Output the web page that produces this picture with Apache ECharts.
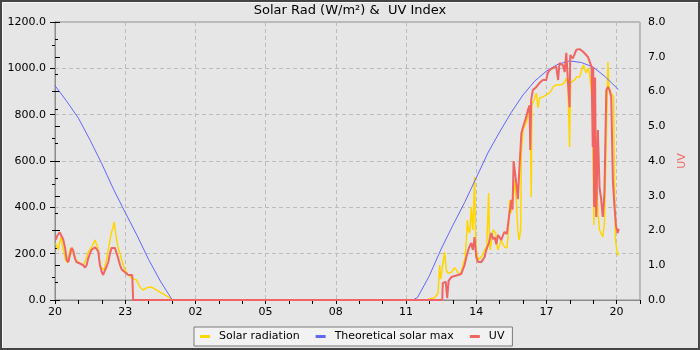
<!DOCTYPE html>
<html>
<head>
<meta charset="utf-8">
<script src="https://cdn.jsdelivr.net/npm/echarts@6/dist/echarts.min.js"></script>
<style>
html, body { margin: 0; padding: 0; background: #e6e6e6; }
#wrap { position: relative; width: 700px; height: 350px; }
#chart { position: absolute; left: 0; top: 0; width: 700px; height: 350px; }
#frame { position: absolute; left: 0; top: 0; width: 700px; height: 350px; box-sizing: border-box;
  border: 2px solid #454545; box-shadow: inset 1px 1px 0 #f7f7f7; pointer-events: none; }
</style>
</head>
<body>
<div id="wrap"><div id="chart"></div><div id="frame"></div></div>
<script>
// x values are hours after 20:00 of the first day
const hourLabels = ['20', '23', '02', '05', '08', '11', '14', '17', '20'];

const solarHours = [
  0.03, 0.07, 0.14, 0.2, 0.26, 0.31, 0.36, 0.45, 0.53, 0.6, 0.66, 0.71, 0.77, 0.83, 0.92, 1.0,
  1.1, 1.21, 1.3, 1.42, 1.5, 1.6, 1.71, 1.76, 1.82, 1.9, 1.95, 2.02, 2.1, 2.2, 2.28, 2.36,
  2.42, 2.47, 2.53, 2.58, 2.63, 2.7, 2.78, 2.85, 2.92, 2.99, 3.06, 3.13, 3.2, 3.27, 3.38, 3.49,
  3.56, 3.63, 3.7, 3.77, 3.84, 3.91, 4.0, 4.13, 4.2, 4.34, 4.45, 4.55, 4.66, 4.77, 4.84, 4.91,
  5.01, 15.9, 15.95, 16.08, 16.22, 16.3, 16.37, 16.44, 16.48, 16.51, 16.58, 16.65, 16.72, 16.8,
  16.87, 16.94, 17.01, 17.08, 17.15, 17.22, 17.29, 17.36, 17.43, 17.53, 17.58, 17.62, 17.67,
  17.72, 17.76, 17.79, 17.83, 17.86, 17.93, 17.97, 18.0, 18.08, 18.15, 18.22, 18.29, 18.36,
  18.45, 18.53, 18.57, 18.6, 18.66, 18.72, 18.78, 18.83, 18.88, 18.93, 19.0, 19.07, 19.14,
  19.21, 19.31, 19.36, 19.43, 19.5, 19.57, 19.64, 19.71, 19.78, 19.83, 19.9, 19.93, 20.0,
  20.07, 20.14, 20.2, 20.25, 20.31, 20.35, 20.38, 20.42, 20.5, 20.57, 20.64, 20.71, 20.78,
  20.85, 20.92, 20.99, 21.07, 21.14, 21.21, 21.28, 21.35, 21.42, 21.49, 21.56, 21.64, 21.71,
  21.78, 21.85, 21.92, 21.99, 22.03, 22.1, 22.2, 22.3, 22.42, 22.5, 22.58, 22.63, 22.7, 22.77,
  22.84, 22.92, 22.96, 22.99, 23.03, 23.06, 23.13, 23.2, 23.27, 23.34, 23.41, 23.48, 23.56,
  23.63, 23.67, 23.74, 23.8, 23.87, 23.91, 23.95, 24.01, 24.05, 24.1
];
const solarValues = [
  245, 237, 216, 250, 272, 240, 216, 175, 160, 195, 225, 229, 205, 190, 170, 164,
  155, 151, 170, 207, 200, 235, 259, 245, 230, 170, 142, 135, 130, 175, 220, 265,
  294, 310, 337, 300, 260, 224, 200, 173, 150, 130, 118, 108, 100, 95, 90, 86,
  70, 56, 48, 43, 48, 52, 55, 56, 50, 43, 36, 30, 24, 17, 12, 9,
  0, 0, 5, 8, 10, 10, 30, 151, 90, 108, 160, 207, 130, 115,
  108, 120, 125, 140, 130, 118, 108, 120, 115, 186, 260, 345, 300,
  289, 350, 401, 330, 302, 531, 300, 216, 173, 180, 186, 200, 216,
  230, 462, 260, 216, 260, 302, 295, 290, 240, 216, 240, 259, 240,
  229, 225, 270, 432, 376, 432, 518, 432, 302, 259, 300, 635, 734,
  750, 764, 790, 820, 830, 445, 840, 850, 870, 894, 829, 872, 874,
  876, 880, 885, 890, 894, 905, 920, 925, 928, 926, 928, 930, 932,
  941, 958, 930, 660, 937, 945, 950, 963, 963, 990, 1014, 1010, 980, 1000,
  980, 906, 833, 660, 324, 833, 548, 376, 302, 294, 272, 332, 690,
  1027, 920, 900, 894, 876, 518, 259, 216, 194, 203
];

const uvHours = [
  0.03, 0.1, 0.2, 0.28, 0.35, 0.43, 0.5, 0.57, 0.64, 0.71, 0.78, 0.85, 0.92, 1.07, 1.21, 1.28,
  1.35, 1.42, 1.5, 1.57, 1.71, 1.78, 1.85, 1.92, 2.0, 2.06, 2.13, 2.2, 2.28, 2.35, 2.42, 2.49,
  2.56, 2.63, 2.7, 2.78, 2.85, 2.92, 2.99, 3.06, 3.13, 3.2, 3.3, 3.34, 16.55, 16.57, 16.7,
  16.74, 16.76, 16.8, 16.82, 16.94, 17.08, 17.22, 17.36, 17.43, 17.5, 17.58, 17.69, 17.79,
  17.86, 17.93, 18.0, 18.08, 18.22, 18.29, 18.36, 18.43, 18.54, 18.64, 18.72, 18.79, 18.86,
  18.93, 19.0, 19.07, 19.14, 19.21, 19.31, 19.4, 19.5, 19.55, 19.6, 19.64, 19.71, 19.78,
  19.85, 19.93, 20.0, 20.14, 20.21, 20.28, 20.31, 20.35, 20.42, 20.57, 20.71, 20.85, 20.99,
  21.06, 21.14, 21.28, 21.42, 21.5, 21.56, 21.71, 21.78, 21.85, 21.92, 21.99, 22.02, 22.13,
  22.28, 22.42, 22.56, 22.7, 22.78, 22.93, 22.98, 23.0, 23.04, 23.08, 23.13, 23.2, 23.27,
  23.34, 23.41, 23.48, 23.56, 23.63, 23.7, 23.77, 23.84, 23.91, 23.98, 24.05, 24.09
];
const uvValues = [
  1.73, 1.85, 1.95, 2.0, 1.75, 1.5, 1.15, 1.09, 1.3, 1.5, 1.42, 1.2, 1.09, 1.05, 1.0, 0.93,
  1.0, 1.2, 1.35, 1.45, 1.52, 1.55, 1.4, 1.0, 0.8, 0.72, 0.85, 0.95, 1.1, 1.35, 1.5, 1.52,
  1.5, 1.35, 1.2, 1.0, 0.88, 0.83, 0.8, 0.78, 0.72, 0.7, 0.72, 0, 0, 0.49, 0.52,
  0.5, 0.05, 0.05, 0.55, 0.66, 0.69, 0.72, 0.75, 0.8, 1.0, 1.24, 1.5, 1.64,
  1.44, 1.81, 1.24, 1.09, 1.09, 1.12, 1.24, 1.44, 1.64, 1.93, 1.75, 1.81, 1.6,
  1.87, 1.8, 1.73, 1.85, 1.96, 1.9, 2.39, 2.88, 2.6, 4.0, 4.03, 3.37, 2.9,
  3.83, 4.8, 4.98, 5.27, 5.47, 5.6, 4.32, 5.76, 6.04, 6.13, 6.25, 6.33, 6.33,
  6.53, 6.62, 6.68, 6.71, 6.33, 6.82, 6.75, 6.56, 7.11, 6.3, 5.55, 7.05, 6.95,
  7.2, 7.22, 7.15, 7.05, 6.99, 6.71, 4.4, 6.7, 2.68, 6.4, 2.39, 4.89, 3.25,
  2.9, 2.39, 3.08, 6.04, 6.13, 6.04, 5.84, 3.45, 2.68, 2.1, 1.93, 2.05
];

const maxHours = [
  0, 0.5, 1.0, 1.5, 2.0, 2.5, 3.0, 3.5, 4.0, 4.5, 5.0, 5.1, 15.3, 15.5, 16.0, 16.5, 17.0,
  17.5, 18.0, 18.5, 19.0, 19.5, 20.0, 20.5, 21.0, 21.5, 22.0, 22.5, 23.0, 23.5, 24.0, 24.08
];
const maxValues = [
  925, 858, 785, 690, 588, 478, 378, 280, 175, 82, 2, 0, 0, 12, 105, 220, 322,
  420, 527, 635, 725, 810, 885, 945, 988, 1018, 1032, 1025, 1005, 965, 916, 908
];

const pairs = (xs, ys) => xs.map((x, i) => [x, ys[i]]);
const font = 'DejaVu Sans';

const chart = echarts.init(document.getElementById('chart'));
const option = {
  backgroundColor: '#e6e6e6',
  animation: false,
  textStyle: { fontFamily: font },
  title: {
    text: 'Solar Rad (W/m²) &  UV Index',
    left: 'center',
    top: 4,
    padding: 0,
    textStyle: { fontFamily: font, fontSize: 13, fontWeight: 'normal', color: '#000' }
  },
  legend: {
    left: 194,
    top: 327,
    padding: [4, 8, 4, 6],
    itemGap: 16,
    itemWidth: 10,
    itemHeight: 3,
    icon: 'rect',
    backgroundColor: '#f2f2f2',
    borderColor: '#7a7a7a',
    borderWidth: 1,
    borderRadius: 0,
    textStyle: { fontFamily: font, fontSize: 11, color: '#000', padding: [0, 0, 0, 4] },
    data: ['Solar radiation', 'Theoretical solar max', 'UV']
  },
  grid: {
    left: 55, right: 60, top: 22, bottom: 50,
    containLabel: false, outerBoundsMode: 'none',
    show: true, borderColor: '#8c8c8c', borderWidth: 1, backgroundColor: 'transparent'
  },
  xAxis: [
    {
      type: 'value', min: 0, max: 25, interval: 3,
      axisLine: { show: true, lineStyle: { color: '#8c8c8c' } },
      axisTick: { show: false },
      axisLabel: {
        color: '#000', fontSize: 11, margin: 7,
        formatter: v => (v % 3 === 0 ? hourLabels[v / 3] : '')
      },
      splitLine: { show: true, lineStyle: { color: '#bcbcbc', type: [4, 3] } }
    },
    {
      type: 'value', min: 0, max: 25, interval: 1, position: 'bottom',
      axisLine: { show: false },
      axisTick: { show: true, length: 4, lineStyle: { color: '#000' } },
      axisLabel: { show: false },
      splitLine: { show: false }
    }
  ],
  yAxis: [
    {
      type: 'value', min: 0, max: 1200, interval: 200, position: 'left',
      name: 'Solar Rad (W/m²)', nameLocation: 'middle', nameRotate: 90, nameGap: 40,
      nameTextStyle: { color: '#2b6ea6', fontSize: 11, fontFamily: font },
      axisLine: { show: true, lineStyle: { color: '#8c8c8c' } },
      axisTick: { show: true, length: 5, lineStyle: { color: '#000' } },
      minorTick: { show: true, splitNumber: 2, length: 3, lineStyle: { color: '#000' } },
      axisLabel: { color: '#000', fontSize: 11, margin: 9, formatter: v => v.toFixed(1) },
      splitLine: { show: true, lineStyle: { color: '#bcbcbc', type: [4, 3] } }
    },
    {
      type: 'value', min: 0, max: 8, interval: 1, position: 'right',
      name: 'UV', nameLocation: 'middle', nameRotate: 90, nameGap: 36,
      nameTextStyle: { color: '#f06464', fontSize: 11, fontFamily: font },
      axisLine: { show: true, lineStyle: { color: '#8c8c8c' } },
      axisTick: { show: true, length: 5, lineStyle: { color: '#000' } },
      minorTick: { show: true, splitNumber: 2, length: 3, lineStyle: { color: '#000' } },
      axisLabel: { color: '#000', fontSize: 11, margin: 8, formatter: v => v.toFixed(1) },
      splitLine: { show: false }
    }
  ],
  series: [
    {
      name: 'Solar radiation', type: 'line', yAxisIndex: 0, showSymbol: false,
      data: pairs(solarHours, solarValues),
      lineStyle: { color: '#ffd700', width: 1.5 }, itemStyle: { color: '#ffd700' }
    },
    {
      name: 'Theoretical solar max', type: 'line', yAxisIndex: 0, showSymbol: false,
      data: pairs(maxHours, maxValues),
      lineStyle: { color: '#6464ff', width: 1 }, itemStyle: { color: '#6464ff' }
    },
    {
      name: 'UV', type: 'line', yAxisIndex: 1, showSymbol: false,
      data: pairs(uvHours, uvValues),
      lineStyle: { color: '#f06464', width: 2 }, itemStyle: { color: '#f06464' }
    }
  ]
};
option && chart.setOption(option);
</script>
</body>
</html>
